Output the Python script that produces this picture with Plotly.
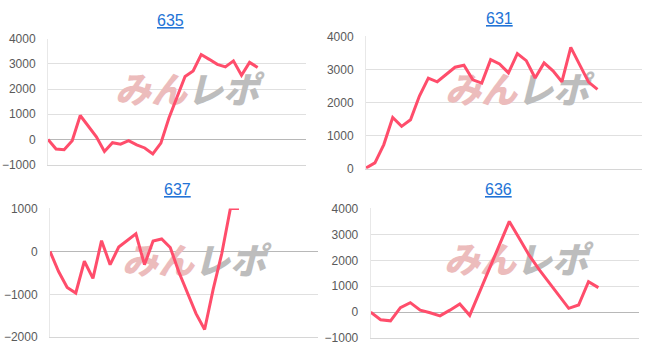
import plotly.graph_objects as go

W, H = 652, 357

# ---- data ----
titles = ["635", "631", "637", "636"]
v635 = [0, -380, -410, -50, 950, 500, 100, -480, -130, -190, -50, -220, -340, -580,
        -150, 850, 1700, 2500, 2720, 3370, 3180, 2980, 2880, 3120, 2550, 3060, 2860]
v631 = [20, 175, 730, 1550, 1280, 1480, 2200, 2740, 2630, 2840, 3070, 3130, 2690, 2590,
        3300, 3170, 2900, 3480, 3270, 2745, 3200, 2960, 2630, 3670, 3160, 2620, 2400]
v637 = [0, -470, -840, -970, -230, -630, 250, -310, 100, 260, 410, -310, 240, 290, 90,
        -480, -950, -1450, -1820, -880, -50, 1000, 1000]
v636 = [0, -290, -330, 180, 370, 80, -20, -140, 80, 320, -120, 800, 1700, 2600, 3500,
        2850, 2200, 1650, 1150, 650, 150, 280, 1180, 950]
series = [v635, v631, v637, v636]

# ---- layout geometry (pixels) ----
panels = [
    dict(x0=48, x1=306, yt=33, yb=164, xmax=32, yr=(-1000, 4000), tx=170, ty=14.5, wx=187, wy=91),
    dict(x0=366, x1=642, yt=30.7, yb=168.3, xmax=31, yr=(0, 4000), tx=499, ty=11.7, wx=517, wy=91),
    dict(x0=50, x1=318, yt=209.7, yb=343.7, xmax=31.2, yr=(-2000, 1000), tx=177, ty=189.7, wx=194, wy=269),
    dict(x0=370.7, x1=639, yt=209.7, yb=344.7, xmax=27.1, yr=(-1000, 4000), tx=498, ty=190, wx=516, wy=267),
]

LINE = "#ff4d6b"
FONT = "Arial, 'Liberation Sans', sans-serif"

fig = go.Figure()
layout = dict(width=W, height=H, margin=dict(l=0, r=0, t=0, b=0),
              paper_bgcolor="white", plot_bgcolor="white", showlegend=False,
              annotations=[])

wm_text = ('<span style="color:#ecbcbc">みん</span>'
           '<span style="color:#bdbdbd">レポ</span>')

for i, (p, vals, t) in enumerate(zip(panels, series, titles)):
    n = "" if i == 0 else str(i + 1)
    xa, ya = "x" + n, "y" + n
    # watermark (below the line)
    wx = (p["wx"] - p["x0"]) / (p["x1"] - p["x0"]) * p["xmax"]
    wy = p["yr"][1] - (p["wy"] - p["yt"]) / (p["yb"] - p["yt"]) * (p["yr"][1] - p["yr"][0])
    fig.add_trace(go.Scatter(x=[wx], y=[wy], mode="text", text=[wm_text],
                             textfont=dict(family="'Noto Sans CJK JP'", size=36,
                                           weight=900, style="italic"),
                             hoverinfo="skip", xaxis=xa, yaxis=ya))
    fig.add_trace(go.Scatter(x=list(range(len(vals))), y=vals, mode="lines",
                             line=dict(color=LINE, width=3),
                             xaxis=xa, yaxis=ya))
    layout["xaxis" + n] = dict(domain=[p["x0"] / W, p["x1"] / W], range=[0, p["xmax"]],
                               anchor=ya, showgrid=False, zeroline=False,
                               showticklabels=False, showline=True, linecolor="#d6d6d6",
                               linewidth=1, fixedrange=True)
    layout["yaxis" + n] = dict(domain=[1 - p["yb"] / H, 1 - p["yt"] / H], range=list(p["yr"]),
                               anchor=xa, dtick=1000, tick0=0, showgrid=True,
                               gridcolor="#e0e0e0", gridwidth=1,
                               zeroline=True, zerolinecolor="#b8b8b8", zerolinewidth=1,
                               showline=True, linecolor="#e8e8e8", linewidth=1,
                               ticks="", ticklabelstandoff=9,
                               tickfont=dict(family=FONT, size=12, color="#5a5a5a"),
                               fixedrange=True)
    layout["annotations"].append(dict(
        text=t, x=p["tx"] / W, y=1 - p["ty"] / H, xref="paper", yref="paper",
        xanchor="center", yanchor="middle", showarrow=False,
        font=dict(family=FONT, size=16, color="#2273d6", lineposition="under")))

fig.update_layout(**layout)
fig.write_html("out.html")
